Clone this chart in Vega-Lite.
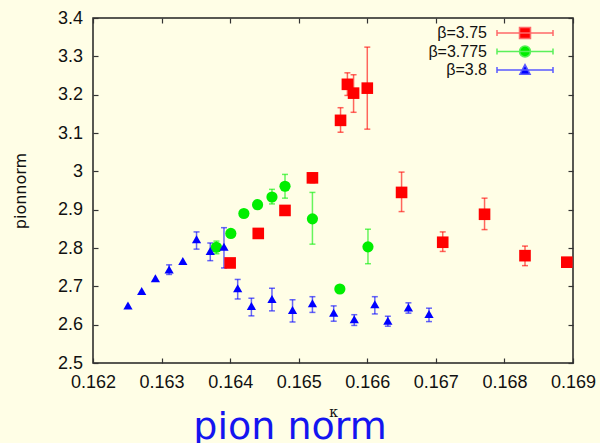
{
  "$schema": "https://vega.github.io/schema/vega-lite/v6.json",
  "width": 480,
  "height": 345,
  "autosize": {"type": "none"},
  "padding": {"left": 93, "top": 18, "right": 27, "bottom": 80},
  "background": "#fffee6",
  "config": {
    "view": {"stroke": "#222", "strokeWidth": 1.5},
    "font": "Liberation Sans"
  },
  "title": {
    "text": "pion norm",
    "orient": "bottom",
    "anchor": "middle",
    "frame": "group",
    "font": "DejaVu Sans",
    "fontSize": 38,
    "fontWeight": "normal",
    "color": "#1414f0",
    "dx": -43,
    "dy": -12,
    "offset": 2
  },
  "datasets": {
    "pts": [
      {"beta": "β=3.75", "k": 0.1640, "v": 2.761},
      {"beta": "β=3.75", "k": 0.16441, "v": 2.838},
      {"beta": "β=3.75", "k": 0.16480, "v": 2.898},
      {"beta": "β=3.75", "k": 0.16520, "v": 2.983, "lo": 2.970, "hi": 2.996},
      {"beta": "β=3.75", "k": 0.16561, "v": 3.133, "lo": 3.102, "hi": 3.166},
      {"beta": "β=3.75", "k": 0.16571, "v": 3.227, "lo": 3.198, "hi": 3.257},
      {"beta": "β=3.75", "k": 0.16580, "v": 3.204, "lo": 3.154, "hi": 3.252},
      {"beta": "β=3.75", "k": 0.16600, "v": 3.217, "lo": 3.110, "hi": 3.324},
      {"beta": "β=3.75", "k": 0.16650, "v": 2.945, "lo": 2.895, "hi": 2.998},
      {"beta": "β=3.75", "k": 0.16710, "v": 2.815, "lo": 2.791, "hi": 2.842},
      {"beta": "β=3.75", "k": 0.16771, "v": 2.888, "lo": 2.848, "hi": 2.930},
      {"beta": "β=3.75", "k": 0.16830, "v": 2.780, "lo": 2.754, "hi": 2.805},
      {"beta": "β=3.75", "k": 0.16891, "v": 2.763},
      {"beta": "β=3.775", "k": 0.16380, "v": 2.802, "lo": 2.785, "hi": 2.818},
      {"beta": "β=3.775", "k": 0.16401, "v": 2.838},
      {"beta": "β=3.775", "k": 0.16420, "v": 2.890},
      {"beta": "β=3.775", "k": 0.16440, "v": 2.913},
      {"beta": "β=3.775", "k": 0.16461, "v": 2.933, "lo": 2.915, "hi": 2.953},
      {"beta": "β=3.775", "k": 0.16480, "v": 2.961, "lo": 2.930, "hi": 2.992},
      {"beta": "β=3.775", "k": 0.16520, "v": 2.876, "lo": 2.810, "hi": 2.945},
      {"beta": "β=3.775", "k": 0.16560, "v": 2.693},
      {"beta": "β=3.775", "k": 0.16601, "v": 2.803, "lo": 2.759, "hi": 2.849},
      {"beta": "β=3.8", "k": 0.16251, "v": 2.650},
      {"beta": "β=3.8", "k": 0.16271, "v": 2.688},
      {"beta": "β=3.8", "k": 0.16291, "v": 2.721},
      {"beta": "β=3.8", "k": 0.16311, "v": 2.744, "lo": 2.731, "hi": 2.756},
      {"beta": "β=3.8", "k": 0.16331, "v": 2.766},
      {"beta": "β=3.8", "k": 0.16351, "v": 2.823, "lo": 2.797, "hi": 2.842},
      {"beta": "β=3.8", "k": 0.16371, "v": 2.792, "lo": 2.767, "hi": 2.813},
      {"beta": "β=3.8", "k": 0.16391, "v": 2.803, "lo": 2.748, "hi": 2.853},
      {"beta": "β=3.8", "k": 0.16411, "v": 2.695, "lo": 2.667, "hi": 2.718},
      {"beta": "β=3.8", "k": 0.16431, "v": 2.649, "lo": 2.623, "hi": 2.669},
      {"beta": "β=3.8", "k": 0.16461, "v": 2.667, "lo": 2.636, "hi": 2.695},
      {"beta": "β=3.8", "k": 0.16491, "v": 2.638, "lo": 2.607, "hi": 2.665},
      {"beta": "β=3.8", "k": 0.16520, "v": 2.656, "lo": 2.632, "hi": 2.673},
      {"beta": "β=3.8", "k": 0.16551, "v": 2.631, "lo": 2.609, "hi": 2.649},
      {"beta": "β=3.8", "k": 0.16581, "v": 2.614, "lo": 2.598, "hi": 2.626},
      {"beta": "β=3.8", "k": 0.16611, "v": 2.653, "lo": 2.628, "hi": 2.673},
      {"beta": "β=3.8", "k": 0.16630, "v": 2.610, "lo": 2.596, "hi": 2.622},
      {"beta": "β=3.8", "k": 0.16660, "v": 2.645, "lo": 2.630, "hi": 2.657},
      {"beta": "β=3.8", "k": 0.16690, "v": 2.628, "lo": 2.608, "hi": 2.643}
    ]
  },
  "data": {"name": "pts"},
  "layer": [
    {
      "mark": {"type": "point", "filled": true, "opacity": 1, "size": 0},
      "encoding": {
        "x": {"field": "k", "type": "quantitative",
              "scale": {"domain": [0.162, 0.169], "nice": false, "zero": false},
              "axis": null},
        "y": {"field": "v", "type": "quantitative",
              "scale": {"domain": [2.5, 3.4], "nice": false, "zero": false},
              "axis": null},
        "fill": {"field": "beta", "type": "nominal",
                 "scale": {"domain": ["β=3.75", "β=3.775", "β=3.8"], "range": ["#ff0000", "#00ee00", "#0000ff"]},
                 "legend": {"orient": "none", "legendX": 424, "legendY": 7, "title": null, "padding": 0,
                            "symbolSize": 144, "symbolStrokeWidth": 1.5, "symbolOpacity": 1, "labelFontSize": 16, "labelColor": "#111",
                            "labelAlign": "right", "labelOffset": -46, "rowPadding": 0.5}},
        "stroke": {"field": "beta", "type": "nominal",
                   "scale": {"domain": ["β=3.75", "β=3.775", "β=3.8"], "range": ["#ff6a6a", "#5af05a", "#5a5aff"]}},
        "shape": {"field": "beta", "type": "nominal",
                  "scale": {"domain": ["β=3.75", "β=3.775", "β=3.8"],
                            "range": [
                              "M-4.667,0H4.667M-4.667,-0.5V0.5M4.667,-0.5V0.5M-0.917,-0.917H0.917V0.917H-0.917Z",
                              "M-4.667,0H4.667M-4.667,-0.5V0.5M4.667,-0.5V0.5M-0.917,0A0.917,0.917,0,1,1,0.917,0A0.917,0.917,0,1,1,-0.917,0Z",
                              "M-4.667,0H4.667M-4.667,-0.5V0.5M4.667,-0.5V0.5M0,-0.9L0.85,0.7H-0.85Z"
                            ]}}
      }
    },
    {
      "transform": [{"filter": "isValid(datum.lo)"}],
      "mark": {"type": "rule", "strokeWidth": 1.5, "opacity": 0.6},
      "encoding": {
        "x": {"field": "k", "type": "quantitative",
              "axis": {"orient": "bottom", "values": [0.162, 0.163, 0.164, 0.165, 0.166, 0.167, 0.168, 0.169],
                       "format": ".3f", "grid": false, "ticks": false, "domain": false,
                       "labelFontSize": 18, "labelColor": "#111", "labelPadding": 10, "labelFlush": false,
                       "title": "κ", "titleFont": "DejaVu Serif", "titleFontSize": 14, "titleFontWeight": "normal",
                       "titleColor": "#111", "titleBaseline": "middle", "titleY": 49}},
        "y": {"field": "lo", "type": "quantitative",
              "axis": {"orient": "left", "values": [2.5, 2.6, 2.7, 2.8, 2.9, 3.0, 3.1, 3.2, 3.3, 3.4],
                       "format": "~g", "grid": false, "ticks": false, "domain": false,
                       "labelFontSize": 18, "labelColor": "#111", "labelPadding": 10.5, "labelFlush": false,
                       "title": "pionnorm", "titleFont": "DejaVu Sans", "titleFontSize": 16, "titleFontWeight": "normal",
                       "titleColor": "#111", "titleX": -73, "titleBaseline": "middle"}},
        "y2": {"field": "hi"},
        "color": {"field": "beta", "type": "nominal",
                  "scale": {"domain": ["β=3.75", "β=3.775", "β=3.8"], "range": ["#ff0000", "#00ee00", "#0000ff"]},
                  "legend": null}
      }
    },
    {
      "transform": [{"filter": "isValid(datum.lo)"}],
      "mark": {"type": "tick", "orient": "horizontal", "size": 6, "thickness": 1.5, "opacity": 0.6},
      "encoding": {
        "x": {"field": "k", "type": "quantitative",
              "axis": {"orient": "bottom", "values": [0.162, 0.163, 0.164, 0.165, 0.166, 0.167, 0.168, 0.169],
                       "labels": false, "domain": false, "grid": false, "tickSize": 5, "offset": -5,
                       "tickColor": "#333", "tickWidth": 1.2, "title": null}},
        "y": {"field": "lo", "type": "quantitative",
              "axis": {"orient": "left", "values": [2.5, 2.6, 2.7, 2.8, 2.9, 3.0, 3.1, 3.2, 3.3, 3.4],
                       "labels": false, "domain": false, "grid": false, "tickSize": 5, "offset": -5,
                       "tickColor": "#333", "tickWidth": 1.2, "title": null}},
        "color": {"field": "beta", "type": "nominal", "legend": null}
      }
    },
    {
      "transform": [{"filter": "isValid(datum.hi)"}],
      "mark": {"type": "tick", "orient": "horizontal", "size": 6, "thickness": 1.5, "opacity": 0.6},
      "encoding": {
        "x": {"field": "k", "type": "quantitative",
              "axis": {"orient": "top", "values": [0.162, 0.163, 0.164, 0.165, 0.166, 0.167, 0.168, 0.169],
                       "labels": false, "domain": false, "grid": false, "tickSize": 5, "offset": -5,
                       "tickColor": "#333", "tickWidth": 1.2, "title": null}},
        "y": {"field": "hi", "type": "quantitative",
              "axis": {"orient": "right", "values": [2.5, 2.6, 2.7, 2.8, 2.9, 3.0, 3.1, 3.2, 3.3, 3.4],
                       "labels": false, "domain": false, "grid": false, "tickSize": 5, "offset": -5,
                       "tickColor": "#333", "tickWidth": 1.2, "title": null}},
        "color": {"field": "beta", "type": "nominal", "legend": null}
      }
    },
    {
      "transform": [{"filter": "datum.beta == 'β=3.75'"}],
      "mark": {"type": "point", "filled": true, "opacity": 1, "shape": "square", "size": 135},
      "encoding": {
        "x": {"field": "k", "type": "quantitative", "axis": null},
        "y": {"field": "v", "type": "quantitative", "axis": null},
        "color": {"field": "beta", "type": "nominal", "legend": null}
      }
    },
    {
      "transform": [{"filter": "datum.beta == 'β=3.775'"}],
      "mark": {"type": "point", "filled": true, "opacity": 1, "shape": "circle", "size": 125},
      "encoding": {
        "x": {"field": "k", "type": "quantitative", "axis": null},
        "y": {"field": "v", "type": "quantitative", "axis": null},
        "color": {"field": "beta", "type": "nominal", "legend": null}
      }
    },
    {
      "transform": [{"filter": "datum.beta == 'β=3.8'"}],
      "mark": {"type": "point", "filled": true, "opacity": 1, "shape": "triangle-up", "size": 85},
      "encoding": {
        "x": {"field": "k", "type": "quantitative", "axis": null},
        "y": {"field": "v", "type": "quantitative", "axis": null},
        "color": {"field": "beta", "type": "nominal", "legend": null}
      }
    }
  ],
  "resolve": {
    "axis": {"x": "independent", "y": "independent"}
  }
}
